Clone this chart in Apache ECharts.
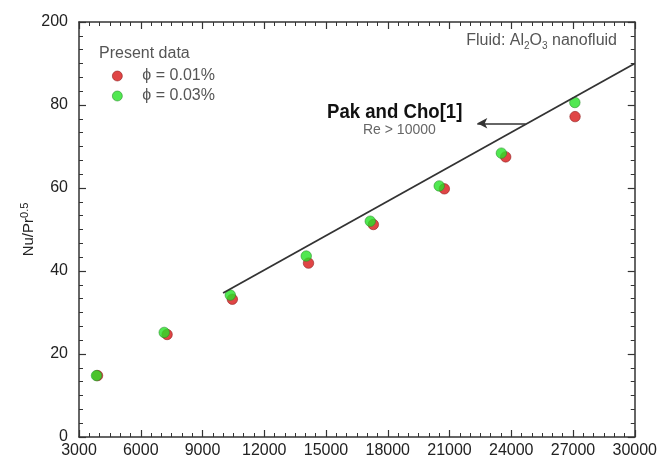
<!DOCTYPE html>
<html>
<head>
<meta charset="utf-8">
<script src="https://cdn.jsdelivr.net/npm/echarts@6/dist/echarts.min.js"></script>
<style>
html, body { margin: 0; padding: 0; background: #fff; }
#main { width: 660px; height: 464px; }
</style>
</head>
<body>
<div id="main"></div>
<script>
// data
var re001 = [3900, 7280, 10450, 14150, 17300, 20750, 23730, 27100];
var nu001 = [14.8, 24.7, 33.2, 41.9, 51.2, 59.8, 67.5, 77.2];
var re003 = [3850, 7140, 10350, 14040, 17150, 20500, 23520, 27090];
var nu003 = [14.8, 25.2, 34.2, 43.6, 52.0, 60.5, 68.4, 80.6];
var pakRe = [10000, 30000];
var pakNu = [34.7, 90.0];
var xTicks = [3000, 6000, 9000, 12000, 15000, 18000, 21000, 24000, 27000, 30000];
var yTicks = [0, 20, 40, 60, 80, 200];

function pairs(xs, ys) {
    return xs.map(function (x, i) { return [x, ys[i]]; });
}

var axisColor = '#333';
var font = 'Liberation Sans';

function xAx(pos, show) {
    return {
        type: 'value', position: pos, min: 3000, max: 30000, interval: 3000,
        axisLine: { onZero: false, lineStyle: { color: axisColor, width: 1.5 } },
        axisTick: { inside: true, length: 7, lineStyle: { color: axisColor, width: 1.2 } },
        minorTick: { show: true, splitNumber: 6, length: 4, lineStyle: { color: axisColor, width: 1 } },
        splitLine: { show: false },
        axisLabel: {
            show: show, color: '#222', fontFamily: font, fontSize: 16, margin: 6,
            formatter: function (v) { return xTicks[Math.round((v - 3000) / 3000)]; }
        }
    };
}
function yAx(pos, show) {
    return {
        type: 'value', position: pos, min: 0, max: 100, interval: 20,
        axisLine: { onZero: false, lineStyle: { color: axisColor, width: 1.5 } },
        axisTick: { inside: true, length: 7, lineStyle: { color: axisColor, width: 1.2 } },
        minorTick: { show: true, splitNumber: 6, length: 4, lineStyle: { color: axisColor, width: 1 } },
        splitLine: { show: false },
        axisLabel: {
            show: show, color: '#222', fontFamily: font, fontSize: 16, margin: 11,
            formatter: function (v) { return yTicks[Math.round(v / 20)]; }
        }
    };
}

var yMain = yAx('left', true);
yMain.name = '{n|Nu/Pr}{s|0.5}';
yMain.nameLocation = 'middle';
yMain.nameGap = 40;
yMain.nameMoveOverlap = false;
yMain.nameRotate = 90;
yMain.nameTextStyle = {
    rich: {
        n: { fontFamily: font, fontSize: 15, color: '#222', lineHeight: 20 },
        s: { fontFamily: font, fontSize: 11, color: '#222', verticalAlign: 'top', lineHeight: 12 }
    }
};

var dotRed = { color: '#d81616', borderColor: '#8a1a1a', borderWidth: 0.7 };
var dotGreen = { color: '#26e226', borderColor: '#2a8a2a', borderWidth: 0.7 };

var chart = echarts.init(document.getElementById('main'));
chart.setOption({
    animation: false,
    backgroundColor: '#fff',
    grid: { left: 79, right: 24, top: 22, bottom: 27 },
    xAxis: [xAx('bottom', true), xAx('top', false)],
    yAxis: [yMain, yAx('right', false)],
    legend: {
        orient: 'vertical', left: 107, top: 63, itemWidth: 40, itemHeight: 10, itemGap: 4,
        textStyle: { fontFamily: font, fontSize: 16, color: '#555' },
        data: [
            { name: '\u03d5 = 0.01%', icon: 'circle', itemStyle: dotRed },
            { name: '\u03d5 = 0.03%', icon: 'circle', itemStyle: dotGreen }
        ]
    },
    graphic: [
        { type: 'text', left: 99, top: 46, style: { text: 'Present data', fontFamily: font, fontSize: 16, fill: '#555' } },
        {
            type: 'text', right: 43, top: 33,
            style: {
                text: '{t|Fluid: Al}{b|2}{t|O}{b|3}{t| nanofluid}',
                rich: {
                    t: { fontFamily: font, fontSize: 16, fill: '#555', lineHeight: 20 },
                    b: { fontFamily: font, fontSize: 10, fill: '#555', verticalAlign: 'bottom', lineHeight: 10 }
                }
            }
        },
        {
            type: 'text', left: 327, top: 102, scaleX: 0.93,
            style: { text: 'Pak and Cho[1]', fontFamily: font, fontWeight: 'bold', fontSize: 20, fill: '#111' }
        },
        { type: 'text', left: 363, top: 123, style: { text: 'Re > 10000', fontFamily: font, fontSize: 14, fill: '#666' } }
    ],
    series: [
        {
            type: 'line', data: pairs(pakRe, pakNu), symbol: 'none', silent: true,
            lineStyle: { color: '#333', width: 1.8 },
            markLine: {
                silent: true, animation: false, label: { show: false },
                symbolSize: [8, 10],
                lineStyle: { color: '#333', width: 1.5, type: 'solid' },
                data: [[
                    { coord: [22350, 75.6], symbol: 'arrow' },
                    { coord: [24700, 75.6], symbol: 'none' }
                ]]
            }
        },
        { name: '\u03d5 = 0.01%', type: 'scatter', data: pairs(re001, nu001), symbolSize: 10.5, itemStyle: dotRed },
        { name: '\u03d5 = 0.03%', type: 'scatter', data: pairs(re003, nu003), symbolSize: 10.5, itemStyle: dotGreen }
    ]
});
</script>
</body>
</html>
